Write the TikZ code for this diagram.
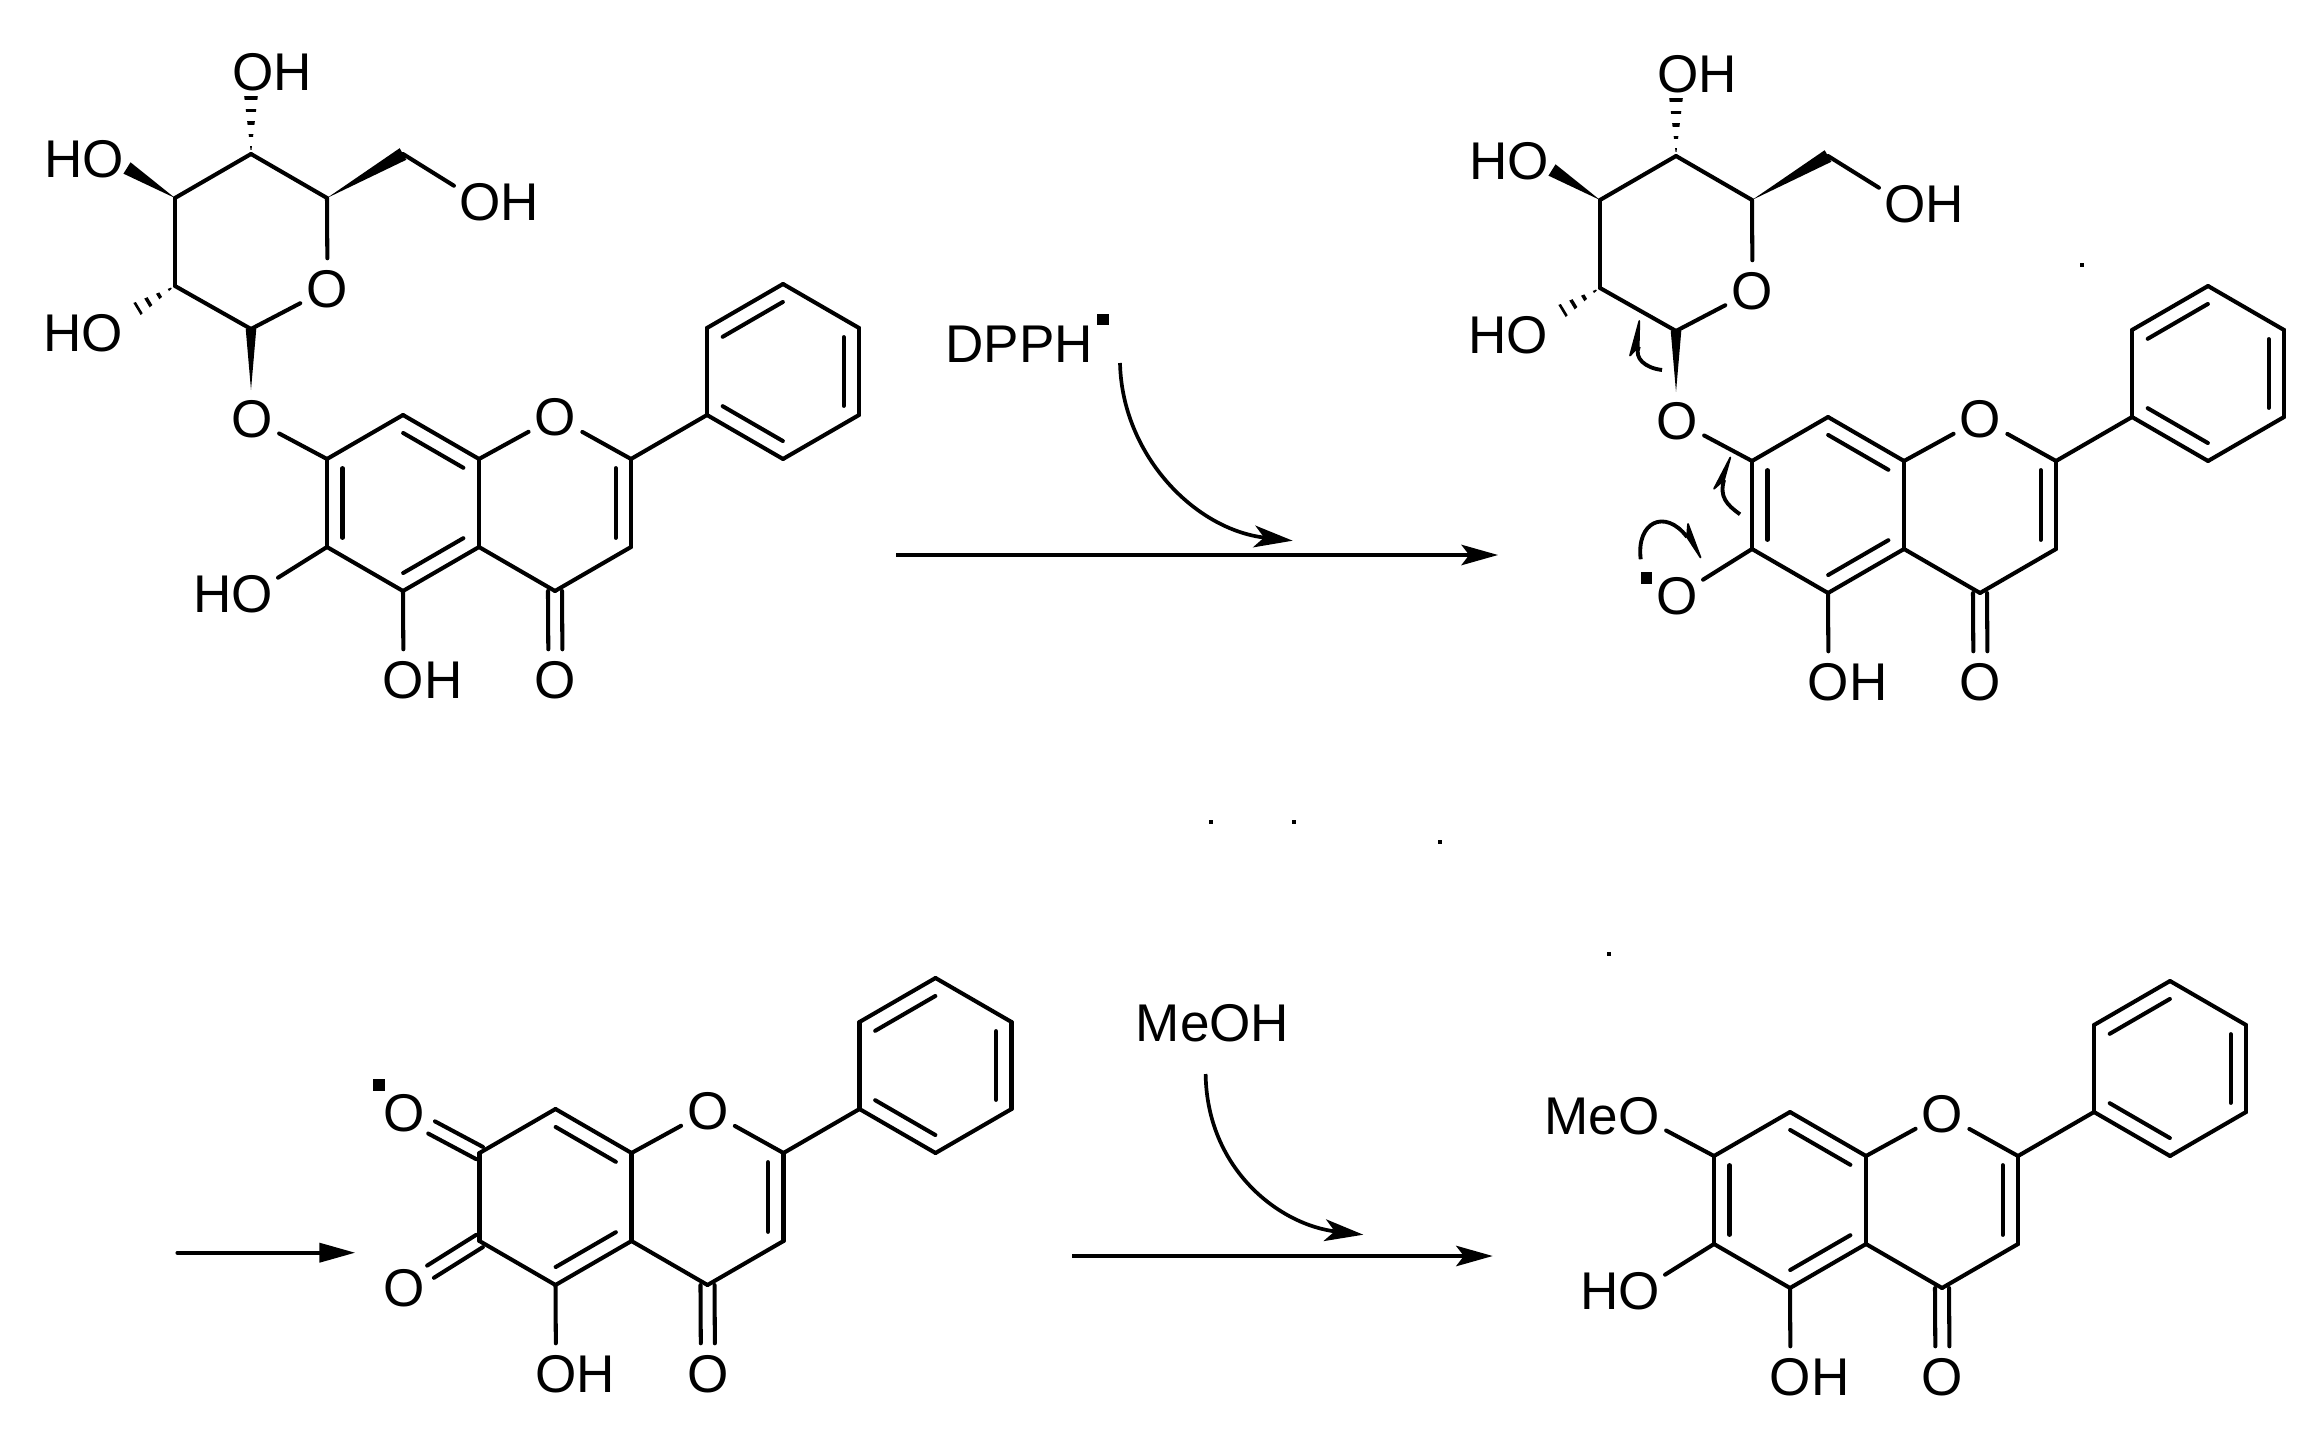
\documentclass[tikz,border=0pt]{standalone}
\usepackage{fontspec}
\setmainfont{Liberation Sans}
\usetikzlibrary{arrows.meta,calc}

\tikzset{
  x=0.01cm, y=0.01cm,
  bond/.style={line width=1.15pt, line cap=round},
  atomO/.style={circle, inner sep=0pt, minimum size=0.6cm, font=\fontsize{15.1}{16}\selectfont},
  reagent/.style={inner sep=0pt, font=\fontsize{15.1}{16}\selectfont},
  radical/.style={fill=black, inner sep=0pt, minimum size=0.115cm},
  speck/.style={fill=black, inner sep=0pt, minimum size=0.04cm},
  rxn/.style={line width=1.05pt, -{Stealth[length=10.4pt,width=5.8pt,inset=2.2pt]}},
  curverxn/.style={line width=1.05pt, -{Stealth[length=11pt,width=6.2pt,inset=2.8pt]}},
  curl/.style={line width=1.1pt},
  curlhead/.style={fill=black, draw=black, line width=0.5pt, line join=round},
}

\newcommand{\innerbond}[2]{\draw[bond,shorten <=2.6pt,shorten >=2.6pt] ($(#1)!4.4pt!90:(#2)$) -- ($(#2)!4.4pt!-90:(#1)$);}
\newcommand{\wedgebond}[3][1.9pt]{\fill (#2) -- ($(#3)!#1!90:(#2)$) -- ($(#3)!#1!-90:(#2)$) -- cycle;}
\newcommand{\hashbond}[2]{\begin{scope}
  \clip (#1) -- ($(#2)!2pt!90:(#1)$) -- ($(#2)!2pt!-90:(#1)$) -- cycle;
  \draw[line width=8pt, dash pattern=on 1pt off 2.56pt, dash phase=2.36pt] (#1) -- (#2);
\end{scope}}

\begin{document}
\begin{tikzpicture}
\useasboundingbox (0,0) rectangle (2307,-1431);

\foreach \m/\x/\y/\sevn/\six in {a/327/-459/O/\llap{H}O, b/1752/-461/O/O, c/479.5/-1153/O/O, d/1714/-1156/\llap{Me}O/\llap{H}O} {
  \begin{scope}[shift={(\x,\y)}]
    \coordinate (\m-c7) at (0,0);
    \coordinate (\m-c8) at (76,44);
    \coordinate (\m-c8a) at (152,0);
    \coordinate (\m-c4a) at (152,-88);
    \coordinate (\m-c5) at (76,-132);
    \coordinate (\m-c6) at (0,-88);
    \coordinate (\m-c2) at (304,0);
    \coordinate (\m-c3) at (304,-88);
    \coordinate (\m-c4) at (228,-132);
    \coordinate (\m-p1) at (380,44);
    \coordinate (\m-p2) at (380,131);
    \coordinate (\m-p3) at (456,175);
    \coordinate (\m-p4) at (532,131);
    \coordinate (\m-p5) at (532,44);
    \coordinate (\m-p6) at (456,0);
    \node[atomO] (\m-o1) at (228.5,42) {O};
    \node[atomO] (\m-o4) at (228.5,-221) {O};
    \node[atomO] (\m-o5) at (76.5,-221) {O\rlap{H}};
    \node[atomO] (\m-o7) at (-75,40) {\sevn};
    \node[atomO] (\m-o6) at (-75,-135) {\six};
  \end{scope}
  \foreach \p/\q in {c7/c8, c8/c8a, c8a/c4a, c4a/c5, c5/c6, c6/c7, c8a/o1, o1/c2, c2/c3, c3/c4, c4/c4a, c5/o5, c2/p1, p1/p2, p2/p3, p3/p4, p4/p5, p5/p6, p6/p1}
    \draw[bond] (\m-\p) -- (\m-\q);
  \foreach \s in {-2,2}
    \draw[bond,transform canvas={xshift=\s pt}] (\m-c4) -- (\m-o4);
  \innerbond{\m-c8a}{\m-c8}
  \innerbond{\m-c5}{\m-c4a}
  \innerbond{\m-c3}{\m-c2}
  \innerbond{\m-p1}{\m-p6}
  \innerbond{\m-p5}{\m-p4}
  \innerbond{\m-p3}{\m-p2}
}

\foreach \m in {a,b,d} {
  \draw[bond] (\m-c7) -- (\m-o7);
  \draw[bond] (\m-c6) -- (\m-o6);
  \innerbond{\m-c7}{\m-c6}
}

\foreach \s in {-1,1} {
  \draw[bond,transform canvas={shift={(\s*3.4,\s*6.1)}}] (c-c7) -- (c-o7);
  \draw[bond,transform canvas={shift={(\s*3.4,-\s*6.1)}}] (c-c6) -- (c-o6);
}

\foreach \m/\x/\y in {a/327/-459, b/1752/-461} {
  \begin{scope}[shift={(\x,\y)}]
    \coordinate (\m-s1) at (-76,130);
    \coordinate (\m-s2) at (-152,173);
    \coordinate (\m-s3) at (-152,261);
    \coordinate (\m-s4) at (-76,305);
    \coordinate (\m-s5) at (0,261);
    \coordinate (\m-s6) at (76,305);
    \coordinate (\m-gly) at (-76,69);
    \coordinate (\m-h2) at (-190,150);
    \coordinate (\m-w3) at (-200,291);
    \coordinate (\m-h4) at (-76,365);
    \node[atomO] (\m-os) at (0.5,170) {O};
    \node[atomO] (\m-o2s) at (-225,126) {\llap{H}O};
    \node[atomO] (\m-o3s) at (-224,300) {\llap{H}O};
    \node[atomO] (\m-o4s) at (-74,387) {O\rlap{H}};
    \node[atomO] (\m-o6s) at (153,257) {O\rlap{H}};
  \end{scope}
  \foreach \p/\q in {s1/s2, s2/s3, s3/s4, s4/s5, s5/os, os/s1, s6/o6s}
    \draw[bond] (\m-\p) -- (\m-\q);
  \wedgebond[1.5pt]{\m-gly}{\m-s1}
  \wedgebond{\m-s3}{\m-w3}
  \wedgebond{\m-s5}{\m-s6}
  \hashbond{\m-s2}{\m-h2}
  \hashbond{\m-s4}{\m-h4}
}

\node[radical] (b-dot) at (1646.5,-578) {};
\node[radical] (c-dot) at (379,-1085) {};

\coordinate (tailA) at (1662,-370);
\coordinate (joinA) at (1638.7,-346.7);
\draw[curl] (tailA) .. controls (1645,-368) and (1634,-358) .. (joinA);
\path[curlhead] (1639.3,-321) -- (1630,-355.5) -- (joinA) -- cycle;

\coordinate (tailB) at (1740,-514.3);
\coordinate (joinB) at (1724,-480);
\draw[curl] (tailB) .. controls (1727,-505) and (1719,-497) .. (joinB);
\path[curlhead] (1730.3,-457.5) -- (1714,-488.8) -- (joinB) -- cycle;

\coordinate (tailC) at (1640.7,-559.3);
\coordinate (joinC) at (1687,-537);
\draw[curl] (tailC) .. controls (1636,-522) and (1665,-508) .. (joinC);
\path[curlhead] (1700.5,-557.5) -- (1688,-524) -- (joinC) -- cycle;

\node[reagent] (dpph) at (1019,-344.3) {DPPH};
\node[radical] (dpphdot) at (1102.8,-319.5) {};
\coordinate (dpphtail) at (1120,-363);
\coordinate (dpphtip) at (1292.7,-540.7);
\draw[curverxn] (dpphtail) .. controls (1122,-455) and (1195,-530) .. (dpphtip);

\coordinate (rxnAstart) at (896,-555);
\coordinate (rxnAend) at (1498,-555);
\draw[rxn] (rxnAstart) -- (rxnAend);

\coordinate (rxnBstart) at (177.3,-1252.7);
\coordinate (rxnBend) at (355.3,-1252.7);
\draw[line width=1.05pt, line cap=round, -{Stealth[length=10.2pt,width=5.4pt,inset=0pt]}] (rxnBstart) -- (rxnBend);

\node[reagent] (meoh) at (1212.5,-1023.5) {MeOH};
\coordinate (meohtail) at (1205.6,-1074);
\coordinate (meohtip) at (1363.3,-1234.7);
\draw[curverxn] (meohtail) .. controls (1207,-1170) and (1280,-1225) .. (meohtip);

\coordinate (rxnCstart) at (1072,-1256);
\coordinate (rxnCend) at (1492.7,-1256);
\draw[rxn] (rxnCstart) -- (rxnCend);

\node[speck] (specka) at (2081.6,-265) {};
\node[speck] (speckb) at (1211,-822) {};
\node[speck] (speckc) at (1294,-822) {};
\node[speck] (speckd) at (1440,-841.7) {};
\node[speck] (specke) at (1609.3,-953.7) {};
\end{tikzpicture}
\end{document}
